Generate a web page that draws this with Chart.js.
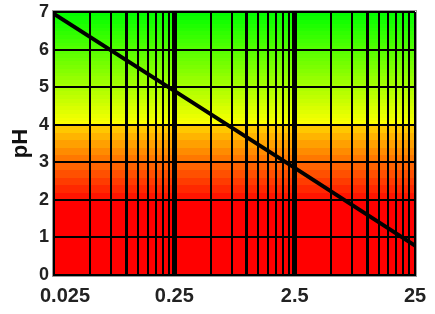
<!DOCTYPE html>
<html lang="en">
<head>
    <meta charset="UTF-8">
    <title>pH chart</title>
    <script src="https://cdn.jsdelivr.net/npm/chart.js"></script>
    <style>
        html, body { margin: 0; padding: 0; background: #fff; }
        #wrap { width: 435px; height: 314px; }
    </style>
</head>
<body>
    <div id="wrap"><canvas id="phChart" width="435" height="314"></canvas></div>

    <script>
        // data
        const gridX = [0.025, 0.05, 0.075, 0.1, 0.125, 0.15, 0.175, 0.2, 0.225, 0.25,
                       0.5, 0.75, 1, 1.25, 1.5, 1.75, 2, 2.25, 2.5,
                       5, 7.5, 10, 12.5, 15, 17.5, 20, 22.5, 25];
        const xTickValues = [0.025, 0.25, 2.5, 25];
        const xTickLabels = ["0.025", "0.25", "2.5", "25"];
        const lineX = [0.025, 0.25, 2.5, 25];
        const phValues = [6.95, 4.9, 2.85, 0.78];
        const yTicks = [0, 1, 2, 3, 4, 5, 6, 7];

        function bandColor(p) {
            if (p < 2) return "rgb(255,0,0)";
            if (p < 4) {
                let q = Math.floor((p - 2) / 0.2 + 1e-6);
                return "rgb(255," + (20 + q * 20) + ",0)";
            }
            let r = Math.round(255 * (7 - p - 0.05) / 3);
            return "rgb(" + Math.max(r, 0) + ",255,0)";
        }

        const backgroundBands = {
            id: "backgroundBands",
            beforeDraw(chart) {
                const ctx = chart.ctx, a = chart.chartArea, y = chart.scales.y;
                ctx.save();
                ctx.fillStyle = bandColor(0);
                ctx.fillRect(a.left, y.getPixelForValue(2), a.right - a.left, y.getPixelForValue(0) - y.getPixelForValue(2));
                for (let p = 2; p < 6.999; p += (p < 4 - 1e-6 ? 0.2 : 0.1)) {
                    let step = p < 4 - 1e-6 ? 0.2 : 0.1;
                    let top = y.getPixelForValue(p + step), bot = y.getPixelForValue(p);
                    ctx.fillStyle = bandColor(p + 1e-6);
                    ctx.fillRect(a.left, Math.floor(top), a.right - a.left, Math.ceil(bot) - Math.floor(top));
                }
                ctx.restore();
            },
            afterDraw(chart) {
                const ctx = chart.ctx, a = chart.chartArea, x = chart.scales.x;
                ctx.save();
                ctx.strokeStyle = "#999";
                ctx.lineWidth = 1;
                ctx.strokeRect(a.left - 1.5, a.top - 1.5, a.right - a.left + 3, a.bottom - a.top + 3);
                ctx.fillStyle = "#222";
                ctx.font = "bold 20px 'Liberation Sans', Arial, sans-serif";
                ctx.textBaseline = "middle";
                xTickValues.forEach((v, i) => {
                    let px = x.getPixelForValue(v);
                    ctx.textAlign = i === 0 ? "left" : "center";
                    ctx.fillText(xTickLabels[i], i === 0 ? px - 14 : px, a.bottom + 21);
                });
                ctx.restore();
            }
        };

        function thickness(v) {
            if (v === 0.25 || v === 2.5) return 5;
            if (v === 0.1 || v === 1 || v === 10) return 3;
            return 2;
        }

        new Chart(document.getElementById("phChart"), {
            type: "line",
            data: {
                datasets: [{
                    data: lineX.map((v, i) => ({ x: v, y: phValues[i] })),
                    borderColor: "#000",
                    borderWidth: 4,
                    pointRadius: 0,
                    tension: 0
                }]
            },
            options: {
                responsive: false,
                animation: false,
                layout: { padding: { top: 12, right: 20, left: 0, bottom: 0 } },
                plugins: { legend: { display: false }, tooltip: { enabled: false } },
                scales: {
                    x: {
                        type: "logarithmic",
                        min: 0.025,
                        max: 25,
                        afterBuildTicks: s => { s.ticks = gridX.map(v => ({ value: v })); },
                        afterFit: s => { s.height = 39; s.paddingLeft = 0; s.paddingRight = 0; },
                        ticks: { display: false },
                        grid: {
                            color: "#000",
                            lineWidth: c => thickness(c.tick ? c.tick.value : 0),
                            drawTicks: false
                        },
                        border: { color: "#000", width: 2 }
                    },
                    y: {
                        min: 0,
                        max: 7,
                        afterBuildTicks: s => { s.ticks = yTicks.map(v => ({ value: v })); },
                        afterFit: s => { s.width = 54; s.paddingTop = 0; s.paddingBottom = 0; },
                        ticks: {
                            color: "#222",
                            padding: 5,
                            font: { family: "'Liberation Sans', Arial, sans-serif", size: 18, weight: "bold" }
                        },
                        title: {
                            display: true,
                            text: "pH",
                            color: "#111",
                            padding: { top: 8, bottom: 0 },
                            font: { family: "'Liberation Sans', Arial, sans-serif", size: 22, weight: "bold" }
                        },
                        grid: { color: "#000", lineWidth: 2, drawTicks: false },
                        border: { color: "#000", width: 2 }
                    }
                }
            },
            plugins: [backgroundBands]
        });
    </script>
</body>
</html>
